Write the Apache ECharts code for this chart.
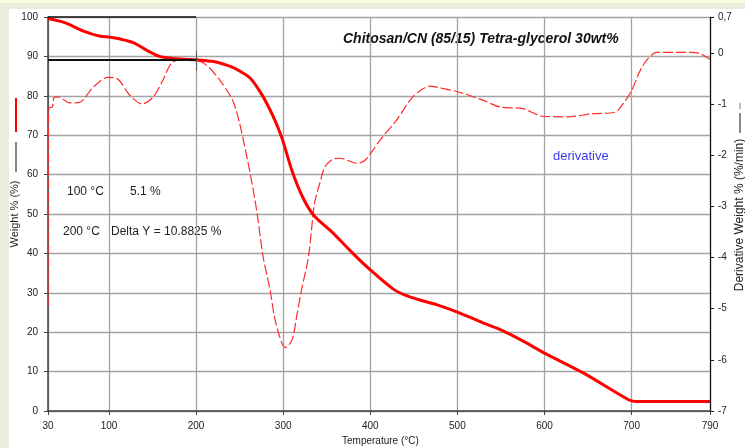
<!DOCTYPE html>
<html>
<head>
<meta charset="utf-8">
<script src="https://cdn.jsdelivr.net/npm/echarts@6/dist/echarts.min.js"></script>
<style>
  html, body { margin: 0; padding: 0; }
  body { width: 745px; height: 448px; position: relative; background: #EAEEDC; overflow: hidden; }
  #strip { position: absolute; left: 0; top: 0; width: 745px; height: 3px; background: #FBFBDF; }
  #panel { position: absolute; left: 9px; top: 9px; right: 0; bottom: 0; background: #FFFFFF; }
  #chart { position: absolute; left: 0; top: 0; width: 745px; height: 448px; }
</style>
</head>
<body>
<div id="strip"></div>
<div id="panel"></div>
<div id="chart"></div>
<script>
// TGA weight curve: temperature (°C) and weight (%)
var weightTemp = [30, 50, 70, 90, 100, 113, 128, 143, 158, 173, 185, 200, 220, 240, 250, 262, 275, 285, 292, 299, 311, 323, 335, 357, 380, 400, 426, 440, 455, 476, 500, 530, 550, 575, 600, 645, 697, 706, 790];
var weightPct  = [99.6, 98.5, 96.5, 95.1, 94.9, 94.4, 93.5, 91.6, 90.0, 89.5, 89.3, 89.12, 88.7, 87.4, 86.3, 84.5, 80.5, 76.4, 73.0, 69.0, 60.4, 54.0, 49.7, 45.2, 40.0, 35.8, 31.0, 29.4, 28.3, 27.0, 25.1, 22.3, 20.6, 17.8, 14.7, 9.6, 2.8, 2.4, 2.4];

// DTG curve: temperature (°C) and derivative weight (%/min)
var derivTemp = [30, 30.4, 31, 35, 37, 42, 55, 67, 82, 99, 109, 124, 138, 151, 162, 172, 185, 200, 212, 227, 242, 250, 262, 270, 277, 285, 290, 296, 302, 310, 316, 321, 329, 336, 342, 348, 357, 365, 385, 394, 403, 411, 430, 449, 469, 476, 500, 530, 549, 575, 598, 626, 656, 681, 690, 700, 710, 719, 729, 767, 778, 790];
var derivVal  = [-4.95, -1.6, -1.08, -1.06, -0.87, -0.86, -0.98, -0.96, -0.67, -0.48, -0.5, -0.83, -1.0, -0.86, -0.53, -0.2, -0.12, -0.14, -0.24, -0.53, -0.93, -1.38, -2.35, -3.13, -3.99, -4.64, -5.16, -5.55, -5.76, -5.62, -5.1, -4.64, -3.99, -2.94, -2.55, -2.23, -2.08, -2.06, -2.16, -2.1, -1.9, -1.71, -1.32, -0.86, -0.65, -0.67, -0.76, -0.93, -1.06, -1.09, -1.24, -1.25, -1.19, -1.16, -1.0, -0.74, -0.34, -0.11, 0.01, 0.01, -0.01, -0.13];

// Axis ticks
var tempTicks = [30, 100, 200, 300, 400, 500, 600, 700, 790];

// Reference markers: weight at 100 °C / 200 °C and the step between them
var markTempStart = 30;
var markTempEnd = 200;
var markWeightTop = 100;
var markWeightAt200 = 89.12;

var FONT = "'Liberation Sans', Arial, sans-serif";

function pairs(xs, ys) {
  var out = [];
  for (var i = 0; i < xs.length; i++) out.push([xs[i], ys[i]]);
  return out;
}

var chart = echarts.init(document.getElementById('chart'), null, { renderer: 'canvas' });

chart.setOption({
  backgroundColor: 'transparent',
  animation: false,
  grid: { left: 48, right: 35, top: 17, bottom: 37 },
  xAxis: {
    type: 'value',
    min: 30,
    max: 790,
    axisLine: { show: true, lineStyle: { color: '#404040', width: 1.5 } },
    axisTick: { show: true, length: 4, inside: false, customValues: tempTicks, lineStyle: { color: '#404040' } },
    axisLabel: { customValues: tempTicks, margin: 10, color: '#222', fontFamily: FONT, fontSize: 10 },
    splitLine: { show: true, lineStyle: { color: '#A3A3A3', width: 1.3 } }
  },
  yAxis: [
    {
      type: 'value',
      min: 0,
      max: 100,
      interval: 10,
      axisLine: { show: true, lineStyle: { color: '#404040', width: 1.5 } },
      axisTick: { show: true, length: 4, lineStyle: { color: '#404040' } },
      axisLabel: { margin: 10, color: '#222', fontFamily: FONT, fontSize: 10 },
      splitLine: { show: true, lineStyle: { color: '#A3A3A3', width: 1.3 } }
    },
    {
      type: 'value',
      position: 'right',
      min: -7,
      max: 0.7,
      interval: 1,
      axisLine: { show: true, lineStyle: { color: '#111', width: 1.2 } },
      axisTick: { show: true, length: 4, lineStyle: { color: '#111' } },
      axisLabel: {
        margin: 8, color: '#222', fontFamily: FONT, fontSize: 10,
        formatter: function (v) { return String(Math.round(v * 10) / 10).replace('.', ','); }
      },
      splitLine: { show: false }
    }
  ],
  series: [
    {
      name: 'derivative',
      type: 'line',
      yAxisIndex: 1,
      data: pairs(derivTemp, derivVal),
      showSymbol: false,
      smooth: 0.3,
      lineStyle: { color: '#FF2A2A', width: 1.2, type: [10, 3] },
      z: 3
    },
    {
      name: 'weight',
      type: 'line',
      yAxisIndex: 0,
      data: pairs(weightTemp, weightPct),
      showSymbol: false,
      smooth: 0.3,
      lineStyle: { color: '#FF0000', width: 3 },
      z: 4,
      markLine: {
        silent: true,
        symbol: 'none',
        label: { show: false },
        data: [
          [{ coord: [markTempStart, markWeightTop], lineStyle: { color: '#111', width: 1.6, type: 'solid' } },
           { coord: [markTempEnd, markWeightTop] }],
          [{ coord: [markTempStart, markWeightAt200], lineStyle: { color: '#111', width: 2.2, type: 'solid' } },
           { coord: [markTempEnd, markWeightAt200] }],
          [{ coord: [markTempEnd, markWeightAt200 + 2.3], lineStyle: { color: '#555', width: 1, type: 'solid' } },
           { coord: [markTempEnd, markWeightAt200 - 2.8] }]
        ]
      }
    }
  ],
  graphic: [
    { type: 'text', left: 343, top: 32, style: { text: 'Chitosan/CN (85/15) Tetra-glycerol 30wt%', font: 'italic bold 14px ' + FONT, fill: '#111' } },
    { type: 'text', left: 67, top: 186, style: { text: '100 °C', font: '12px ' + FONT, fill: '#222' } },
    { type: 'text', left: 130, top: 186, style: { text: '5.1 %', font: '12px ' + FONT, fill: '#222' } },
    { type: 'text', left: 63, top: 226, style: { text: '200 °C', font: '12px ' + FONT, fill: '#222' } },
    { type: 'text', left: 111, top: 226, style: { text: 'Delta Y = 10.8825 %', font: '12px ' + FONT, fill: '#222' } },
    { type: 'text', left: 553, top: 150, style: { text: 'derivative', font: '13px ' + FONT, fill: '#3A3AF5' } },
    { type: 'text', left: 342, top: 436, style: { text: 'Temperature (°C)', font: '10px ' + FONT, fill: '#222' } },
    { type: 'text', x: 15, y: 214, rotation: Math.PI / 2,
      style: { text: 'Weight % (%)', font: '11px ' + FONT, fill: '#222', align: 'center', verticalAlign: 'middle' } },
    { type: 'line', shape: { x1: 16, y1: 142, x2: 16, y2: 172 }, style: { stroke: '#111', lineWidth: 1 } },
    { type: 'line', shape: { x1: 16, y1: 98, x2: 16, y2: 132 }, style: { stroke: '#FF0000', lineWidth: 2 } },
    { type: 'text', x: 740, y: 215, rotation: Math.PI / 2,
      style: { text: 'Derivative Weight % (%/min)', font: '12px ' + FONT, fill: '#222', align: 'center', verticalAlign: 'middle' } },
    { type: 'line', shape: { x1: 740, y1: 113, x2: 740, y2: 133 }, style: { stroke: '#111', lineWidth: 1 } },
    { type: 'line', shape: { x1: 740, y1: 103, x2: 740, y2: 109 }, style: { stroke: '#777', lineWidth: 1 } }
  ]
});
</script>
</body>
</html>
